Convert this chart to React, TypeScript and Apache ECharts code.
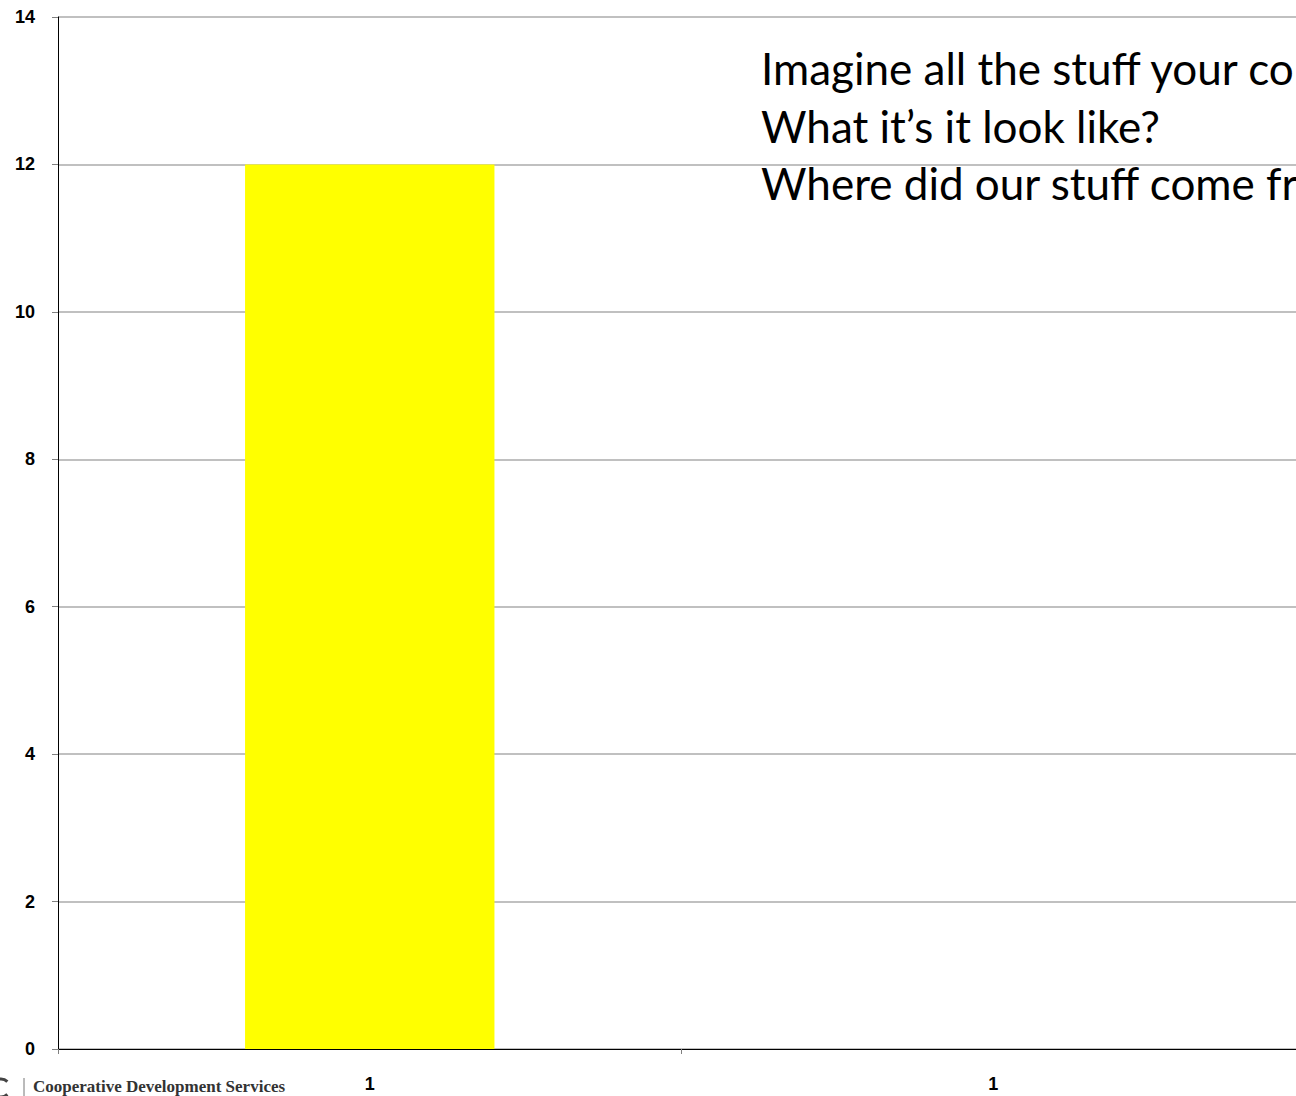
import React, { useEffect, useRef } from "react";
import * as echarts from "echarts";

const categories = ["1", "1"];
const values: (number | null)[] = [12, null];
const yTicks = { min: 0, max: 14, interval: 2 };
const noteLines = [
  "Imagine all the stuff your co",
  "What it\u2019s it look like?",
  "Where did our stuff come fr",
];
const logoText = "Cooperative Development Services";

export default function App() {
  const ref = useRef<HTMLDivElement>(null);
  useEffect(() => {
    document.body.style.margin = "0";
    const chart = echarts.init(ref.current!, null, { renderer: "svg" });
    const option: any = {
      animation: false,
      backgroundColor: "#ffffff",
      grid: { left: 58, top: 17, right: 15, bottom: 47, containLabel: false },
      xAxis: {
        type: "category",
        data: categories,
        boundaryGap: true,
        axisLine: { lineStyle: { color: "#000000", width: 1 } },
        axisTick: { show: true, length: 5, interval: 0, lineStyle: { color: "#808080" } },
        axisLabel: {
          interval: 0,
          margin: 26,
          color: "#000000",
          fontWeight: "bold",
          fontSize: 18,
          fontFamily: "Liberation Sans, Arial, sans-serif",
        },
        splitLine: { show: false },
      },
      yAxis: {
        type: "value",
        min: yTicks.min,
        max: yTicks.max,
        interval: yTicks.interval,
        axisLine: { show: true, lineStyle: { color: "#000000", width: 1 } },
        axisTick: { show: true, length: 6, lineStyle: { color: "#808080" } },
        axisLabel: {
          margin: 23,
          color: "#000000",
          fontWeight: "bold",
          fontSize: 18,
          fontFamily: "Liberation Sans, Arial, sans-serif",
        },
        splitLine: { show: true, lineStyle: { color: "#c0c0c0", width: 2 } },
      },
      series: [
        {
          type: "bar",
          data: values,
          barWidth: "40%",
          itemStyle: { color: "#ffff00" },
        },
      ],
      graphic: [
        ...noteLines.map((t, i) => ({
          type: "text",
          left: 761,
          top: 46 + i * 57.5,
          z: 100,
          style: {
            text: t,
            fill: "#000000",
            fontSize: 44,
            fontFamily: "Lato, 'Open Sans', sans-serif",
          },
        })),
        {
          type: "arc",
          shape: { cx: 1, cy: 1088, r: 9, startAngle: Math.PI / 4, endAngle: (Math.PI * 7) / 4, clockwise: true },
          style: { stroke: "#444444", lineWidth: 3, fill: "none" },
        },
        {
          type: "line",
          shape: { x1: 24, y1: 1078, x2: 24, y2: 1096 },
          style: { stroke: "#777777", lineWidth: 1 },
        },
        {
          type: "text",
          left: 33,
          top: 1078,
          style: {
            text: logoText,
            fill: "#333333",
            fontSize: 17,
            fontWeight: "bold",
            fontFamily: "'Liberation Serif', 'DejaVu Serif', serif",
          },
        },
      ],
    };
    chart.setOption(option);
    return () => chart.dispose();
  }, []);
  return (
    <div
      style={{
        position: "fixed",
        left: 0,
        top: 0,
        width: 1296,
        height: 1096,
        overflow: "hidden",
        background: "#ffffff",
      }}
    >
      <div ref={ref} style={{ width: 1320, height: 1096 }} />
    </div>
  );
}
